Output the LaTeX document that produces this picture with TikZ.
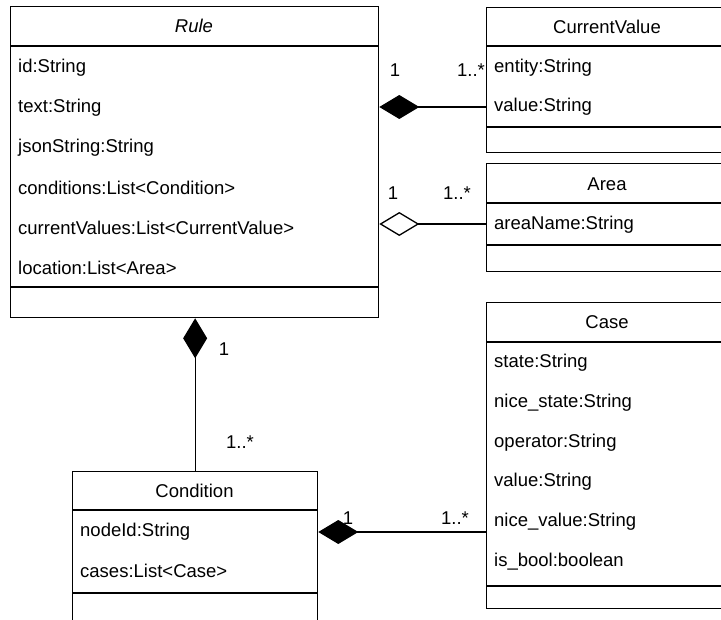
\documentclass[tikz,border=0pt]{standalone}
\usepackage{fontspec}
\setmainfont{Liberation Sans}
\usetikzlibrary{arrows.meta}

\tikzset{
  classbox/.style={draw, line width=1.3bp, fill=white, anchor=north west, inner sep=0pt},
  sepline/.style={line width=1.3bp},
  cname/.style={inner sep=0pt, anchor=center},
  attr/.style={inner sep=0pt, anchor=west},
  mult/.style={inner sep=0pt, anchor=center},
  conn/.style={line width=1.3bp},
  composition/.style={conn, -{Diamond[length=40bp, width=24bp]}},
  aggregation/.style={conn, -{Diamond[open, fill=white, length=40bp, width=24bp]}},
}

\begin{document}
\begin{tikzpicture}[x=1bp, y=-1bp, font=\fontsize{18.5bp}{22bp}\selectfont]
\useasboundingbox (0,0) rectangle (721,620);
\fill[white] (0,0) rectangle (721,620);
\clip (0,0) rectangle (721,620);

% ---------- Rule ----------
\node[classbox, minimum width=368bp, minimum height=311bp] (rule) at (10,6) {};
\draw[sepline] (rule.west |- 0,46) -- (rule.east |- 0,46);
\draw[sepline] (rule.west |- 0,287) -- (rule.east |- 0,287);
\node[cname] (rule-name) at (194,26) {\itshape Rule};
\node[attr] (rule-a1) at (18,68) {id:String};
\node[attr] (rule-a2) at (18,108) {text:String};
\node[attr] (rule-a3) at (18,148) {jsonString:String};
\node[attr] (rule-a4) at (18,188) {conditions:List<Condition>};
\node[attr] (rule-a5) at (18,228) {currentValues:List<CurrentValue>};
\node[attr] (rule-a6) at (18,268) {location:List<Area>};

% ---------- CurrentValue ----------
\node[classbox, minimum width=242bp, minimum height=145bp] (cv) at (486,7) {};
\draw[sepline] (cv.west |- 0,46) -- (cv.east |- 0,46);
\draw[sepline] (cv.west |- 0,127) -- (cv.east |- 0,127);
\node[cname] (cv-name) at (607,27) {CurrentValue};
\node[attr] (cv-a1) at (494,68) {entity:String};
\node[attr] (cv-a2) at (494,107) {value:String};

% ---------- Area ----------
\node[classbox, minimum width=242bp, minimum height=108bp] (area) at (486,163) {};
\draw[sepline] (area.west |- 0,203) -- (area.east |- 0,203);
\draw[sepline] (area.west |- 0,245) -- (area.east |- 0,245);
\node[cname] (area-name) at (607,184) {Area};
\node[attr] (area-a1) at (494,225) {areaName:String};

% ---------- Case ----------
\node[classbox, minimum width=242bp, minimum height=306bp] (case) at (486,302) {};
\draw[sepline] (case.west |- 0,342) -- (case.east |- 0,342);
\draw[sepline] (case.west |- 0,586) -- (case.east |- 0,586);
\node[cname] (case-name) at (607,322) {Case};
\node[attr] (case-a1) at (494,363) {state:String};
\node[attr] (case-a2) at (494,403) {nice\_state:String};
\node[attr] (case-a3) at (494,443) {operator:String};
\node[attr] (case-a4) at (494,482) {value:String};
\node[attr] (case-a5) at (494,522) {nice\_value:String};
\node[attr] (case-a6) at (494,562) {is\_bool:boolean};

% ---------- Condition ----------
\node[classbox, minimum width=245bp, minimum height=160bp] (cond) at (72,471) {};
\draw[sepline] (cond.west |- 0,510) -- (cond.east |- 0,510);
\draw[sepline] (cond.west |- 0,593) -- (cond.east |- 0,593);
\node[cname] (cond-name) at (194.5,491) {Condition};
\node[attr] (cond-a1) at (80,532) {nodeId:String};
\node[attr] (cond-a2) at (80,571) {cases:List<Case>};

% ---------- Associations ----------
\draw[composition] (cv.west |- 0,107) -- (rule.east |- 0,107);
\draw[aggregation] (area.west |- 0,224) -- (rule.east |- 0,224);
\draw[composition] (cond.north) -- (rule.south -| cond.north);
\draw[composition] (case.west |- 0,532) -- (cond.east |- 0,532);

% ---------- Multiplicities ----------
\node[mult] (m-cv-1) at (395,70) {1};
\node[mult] (m-cv-n) at (471,70) {1..*};
\node[mult] (m-area-1) at (393,193) {1};
\node[mult] (m-area-n) at (457,193) {1..*};
\node[mult] (m-cond-1) at (224,349) {1};
\node[mult] (m-cond-n) at (240,442) {1..*};
\node[mult] (m-case-1) at (348,518) {1};
\node[mult] (m-case-n) at (455,518) {1..*};
\end{tikzpicture}
\end{document}
